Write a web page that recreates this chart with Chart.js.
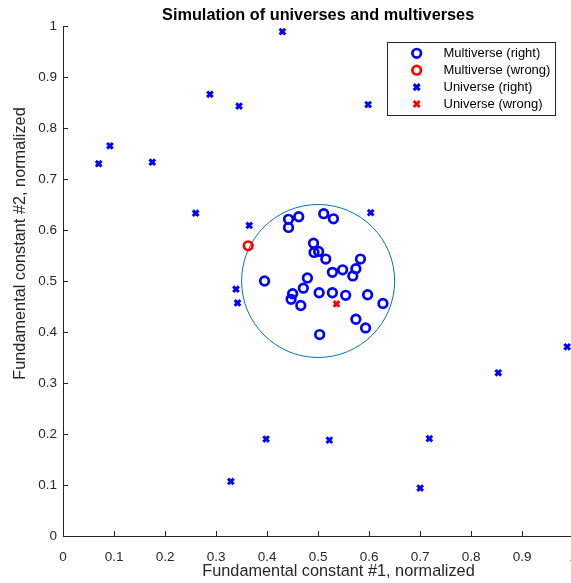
<!DOCTYPE html>
<html>
<head>
<meta charset="utf-8">
<script src="https://cdn.jsdelivr.net/npm/chart.js@4.4.0/dist/chart.umd.min.js"></script>
<style>
  html, body { margin: 0; padding: 0; background: #fff; overflow: hidden; }
  #mycanvas { display: block; }
</style>
</head>
<body>
<canvas id="mycanvas" width="590" height="583"></canvas>
<script>
// values
var multiRightX = [0.442, 0.462, 0.442, 0.511, 0.530, 0.491, 0.492, 0.501, 0.515, 0.583,
                   0.574, 0.548, 0.528, 0.568, 0.395, 0.479, 0.471, 0.450, 0.447, 0.466,
                   0.502, 0.528, 0.554, 0.597, 0.627, 0.574, 0.593, 0.503];
var multiRightY = [0.621, 0.626, 0.605, 0.632, 0.622, 0.574, 0.556, 0.558, 0.543, 0.543,
                   0.524, 0.522, 0.517, 0.510, 0.500, 0.506, 0.486, 0.475, 0.464, 0.452,
                   0.477, 0.477, 0.472, 0.473, 0.456, 0.425, 0.408, 0.395];
var multiWrongX = [0.363];
var multiWrongY = [0.569];
var uniRightX = [0.430, 0.288, 0.345, 0.092, 0.070, 0.175, 0.260, 0.365, 0.598, 0.603,
                 0.339, 0.342, 0.398, 0.329, 0.988, 0.853, 0.522, 0.718, 0.700];
var uniRightY = [0.989, 0.866, 0.843, 0.765, 0.730, 0.733, 0.633, 0.609, 0.846, 0.634,
                 0.484, 0.457, 0.190, 0.107, 0.371, 0.320, 0.188, 0.191, 0.094];
var uniWrongX = [0.536];
var uniWrongY = [0.455];

var tickLabels = ["0", "0.1", "0.2", "0.3", "0.4", "0.5", "0.6", "0.7", "0.8", "0.9", "1"];
var circleCenter = [0.5, 0.5];
var circleRadius = 0.15;

var titleText = "Simulation of universes and multiverses";
var xTitle = "Fundamental constant #1, normalized";
var yTitle = "Fundamental constant #2, normalized";

function pts(xs, ys) {
	var out = [];
	for (var i in xs) {
		out.push({x: xs[i], y: ys[i]});
	}
	return out;
}

var axisColor = "#262626";
var font = "'Liberation Sans', Arial, Helvetica, sans-serif";

var chartdata = {
	datasets: [
		{
			label: "Multiverse (right)",
			data: pts(multiRightX, multiRightY),
			pointStyle: "circle",
			pointRadius: 4.3,
			pointBorderWidth: 2.7,
			borderColor: "#0000ff",
			backgroundColor: "rgba(0,0,0,0)"
		},
		{
			label: "Multiverse (wrong)",
			data: pts(multiWrongX, multiWrongY),
			pointStyle: "circle",
			pointRadius: 4.3,
			pointBorderWidth: 2.7,
			borderColor: "#ff0000",
			backgroundColor: "rgba(0,0,0,0)"
		},
		{
			label: "Universe (right)",
			data: pts(uniRightX, uniRightY),
			pointStyle: "crossRot",
			pointRadius: 4,
			pointBorderWidth: 3,
			borderColor: "#0000ff",
			backgroundColor: "#0000ff"
		},
		{
			label: "Universe (wrong)",
			data: pts(uniWrongX, uniWrongY),
			pointStyle: "crossRot",
			pointRadius: 4,
			pointBorderWidth: 3,
			borderColor: "#ff0000",
			backgroundColor: "#ff0000"
		}
	]
};

// circle, inward ticks, titles and legend (matlab look)
var extras = {
	id: "extras",
	beforeDatasetsDraw: function(chart) {
		var ctx = chart.ctx, x = chart.scales.x, y = chart.scales.y;
		var cx = x.getPixelForValue(circleCenter[0]);
		var cy = y.getPixelForValue(circleCenter[1]);
		var rx = x.getPixelForValue(circleCenter[0] + circleRadius) - cx;
		var ry = cy - y.getPixelForValue(circleCenter[1] + circleRadius);
		ctx.save();
		ctx.beginPath();
		ctx.ellipse(cx, cy, rx, ry, 0, 0, Math.PI * 2);
		ctx.strokeStyle = "#0072bd";
		ctx.lineWidth = 1;
		ctx.stroke();
		ctx.restore();
	},
	afterDraw: function(chart) {
		var ctx = chart.ctx, a = chart.chartArea, x = chart.scales.x, y = chart.scales.y;
		ctx.save();
		ctx.strokeStyle = axisColor;
		ctx.lineWidth = 1;
		ctx.beginPath();
		x.ticks.forEach(function(t) {
			var px = Math.round(x.getPixelForValue(t.value)) + 0.5;
			ctx.moveTo(px, a.bottom);
			ctx.lineTo(px, a.bottom - 5);
		});
		y.ticks.forEach(function(t) {
			var py = Math.round(y.getPixelForValue(t.value)) + 0.5;
			ctx.moveTo(a.left, py);
			ctx.lineTo(a.left + 5, py);
		});
		ctx.stroke();

		// title
		ctx.fillStyle = "#000";
		ctx.font = "bold 16.3px " + font;
		ctx.textAlign = "center";
		ctx.textBaseline = "middle";
		ctx.fillText(titleText, (a.left + a.right) / 2, 16);

		// axis titles
		ctx.fillStyle = axisColor;
		ctx.font = "16.3px " + font;
		ctx.fillText(xTitle, 338.5, 572);
		ctx.save();
		ctx.translate(21, 243.5);
		ctx.rotate(-Math.PI / 2);
		ctx.fillText(yTitle, 0, 0);
		ctx.restore();

		// legend
		var bx = 387.5, by = 42.5, bw = 168, bh = 73;
		ctx.fillStyle = "#fff";
		ctx.fillRect(bx, by, bw, bh);
		ctx.strokeStyle = axisColor;
		ctx.lineWidth = 1;
		ctx.strokeRect(bx, by, bw, bh);
		ctx.font = "13px " + font;
		ctx.textAlign = "left";
		chart.data.datasets.forEach(function(ds, i) {
			var ry = 53.3 + i * 16.9;
			var mx = 416.7;
			ctx.strokeStyle = ds.borderColor;
			ctx.lineWidth = ds.pointBorderWidth;
			ctx.beginPath();
			if (ds.pointStyle === "circle") {
				ctx.arc(mx, ry, ds.pointRadius, 0, Math.PI * 2);
			} else {
				var r = ds.pointRadius * 0.75;
				ctx.moveTo(mx - r, ry - r); ctx.lineTo(mx + r, ry + r);
				ctx.moveTo(mx - r, ry + r); ctx.lineTo(mx + r, ry - r);
			}
			ctx.stroke();
			ctx.fillStyle = "#000";
			ctx.fillText(ds.label, 443.5, ry + 0.5);
		});
		ctx.restore();
	}
};

var ctx = document.getElementById("mycanvas");

var myScatter = new Chart(ctx, {
	type: "scatter",
	data: chartdata,
	plugins: [extras],
	options: {
		responsive: false,
		animation: false,
		events: [],
		layout: { padding: { top: 26, right: 16, left: 0, bottom: 0 } },
		plugins: {
			legend: { display: false },
			title: { display: false },
			tooltip: { enabled: false }
		},
		scales: {
			x: {
				type: "linear",
				min: 0,
				max: 1,
				afterFit: function(s) { s.height = 47; },
				afterBuildTicks: function(s) {
					s.ticks = tickLabels.map(function(l) { return {value: parseFloat(l)}; });
				},
				ticks: {
					autoSkip: false,
					maxRotation: 0,
					padding: 13,
					color: axisColor,
					font: { family: font, size: 13.5 },
					callback: function(v, i) { return tickLabels[i]; }
				},
				grid: { display: true, drawOnChartArea: false, drawTicks: false },
				border: { display: true, color: axisColor, width: 1 }
			},
			y: {
				type: "linear",
				min: 0,
				max: 1,
				afterFit: function(s) { s.width = 63; },
				afterBuildTicks: function(s) {
					s.ticks = tickLabels.map(function(l) { return {value: parseFloat(l)}; });
				},
				ticks: {
					autoSkip: false,
					padding: 6,
					color: axisColor,
					font: { family: font, size: 13.5 },
					callback: function(v, i) { return tickLabels[i]; }
				},
				grid: { display: true, drawOnChartArea: false, drawTicks: false },
				border: { display: true, color: axisColor, width: 1 }
			}
		}
	}
});
</script>
</body>
</html>
